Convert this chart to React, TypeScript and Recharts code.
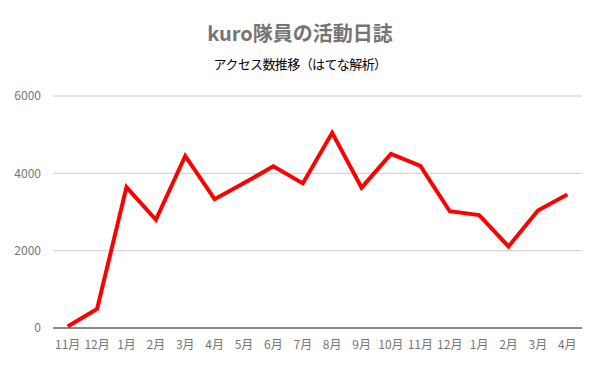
import { CartesianGrid, Line, LineChart, XAxis, YAxis } from 'recharts';

const TITLE = 'kuro隊員の活動日誌';
const SUBTITLE = 'アクセス数推移（はてな解析）';

const months = [
  '11月', '12月', '1月', '2月', '3月', '4月', '5月', '6月', '7月',
  '8月', '9月', '10月', '11月', '12月', '1月', '2月', '3月', '4月',
];
const visits = [
  40, 490, 3640, 2800, 4450, 3330, 3750, 4180, 3740,
  5050, 3630, 4500, 4190, 3020, 2920, 2110, 3040, 3450,
];
const yTicks = [0, 2000, 4000, 6000];

const GRAY = '#757575';
const FONT = '"Noto Sans CJK JP", "Noto Sans", sans-serif';

export default function App() {
  const data = months.map((m, i) => ({ key: i, month: m, value: visits[i] }));

  return (
    <div style={{ position: 'absolute', left: 0, top: 0, width: 600, height: 371, background: '#fff', fontFamily: FONT }}>
      <div
        style={{
          position: 'absolute',
          top: 18,
          width: 600,
          textAlign: 'center',
          fontSize: 20,
          fontWeight: 700,
          color: GRAY,
          lineHeight: '30px',
        }}
      >
        {TITLE}
      </div>
      <div
        style={{
          position: 'absolute',
          top: 55,
          width: 600,
          textAlign: 'center',
          fontSize: 13,
          color: '#000',
          lineHeight: '18px',
          letterSpacing: -0.6,
        }}
      >
        {SUBTITLE}
      </div>
      <LineChart
        width={600}
        height={371}
        data={data}
        margin={{ top: 96, right: 18, bottom: 13, left: 0 }}
      >
        <CartesianGrid stroke="#cccccc" vertical={false} />
        <XAxis
          dataKey="key"
          tickFormatter={(i) => months[Number(i)]}
          interval={0}
          padding={{ left: 14.7, right: 14.7 }}
          axisLine={{ stroke: '#333333', strokeWidth: 1 }}
          tickLine={false}
          tick={{ fill: GRAY, fontSize: 12, fontFamily: FONT }}
          tickMargin={6}
        />
        <YAxis
          width={53}
          domain={[0, 6000]}
          ticks={yTicks}
          axisLine={false}
          tickLine={false}
          tick={{ fill: GRAY, fontSize: 12, fontFamily: FONT }}
          tickMargin={6}
        />
        <Line
          type="linear"
          dataKey="value"
          stroke="#ff0000"
          strokeWidth={4}
          dot={false}
          isAnimationActive={false}
        />
      </LineChart>
    </div>
  );
}
